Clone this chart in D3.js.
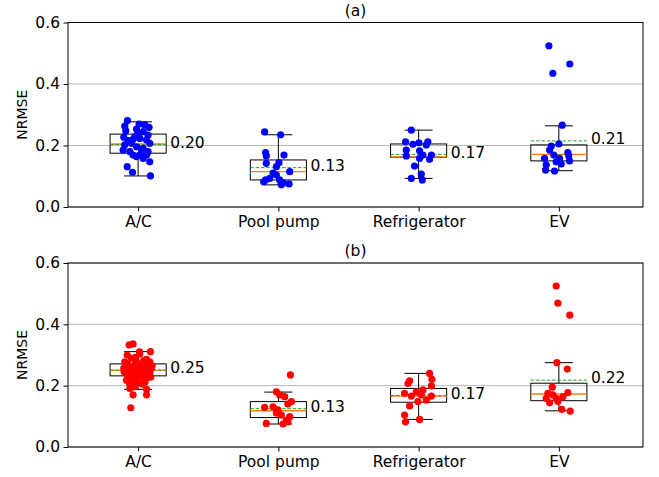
<!DOCTYPE html>
<html><head><meta charset="utf-8">
<script src="https://cdn.jsdelivr.net/npm/d3@7"></script>
<style>body{margin:0;background:#fff}svg{display:block}text{font-family:"DejaVu Sans",sans-serif;fill:#000}</style>
</head><body><svg id="c" width="659" height="477"></svg>
<script>
const categories = ["A/C","Pool pump","Refrigerator","EV"];
const yTicks = [0.0,0.2,0.4,0.6];
const titles = ["(a)","(b)"];

// panel (a) box statistics
const a_q1 = [0.175,0.088,0.162,0.150];
const a_med = [0.205,0.115,0.163,0.171];
const a_q3 = [0.237,0.153,0.205,0.202];
const a_whisLo = [0.101,0.072,0.093,0.118];
const a_whisHi = [0.277,0.235,0.250,0.264];
const a_mean = [0.203,0.128,0.171,0.215];
const a_labels = ["0.20","0.13","0.17","0.21"];

// panel (b) box statistics
const b_q1 = [0.232,0.096,0.146,0.151];
const b_med = [0.250,0.118,0.166,0.173];
const b_q3 = [0.271,0.148,0.191,0.208];
const b_whisLo = [0.188,0.075,0.090,0.118];
const b_whisHi = [0.311,0.179,0.240,0.275];
const b_mean = [0.251,0.125,0.168,0.218];
const b_labels = ["0.25","0.13","0.17","0.22"];

// individual points: [jitter (category units), NRMSE]
const a_AC = [[-0.076,0.281],[-0.095,0.263],[0.007,0.270],[0.048,0.267],[0.078,0.259],[-0.088,0.248],[-0.011,0.253],[0.036,0.245],[0.071,0.234],[-0.102,0.227],[-0.024,0.229],[0.012,0.223],[0.060,0.218],[0.083,0.207],[-0.095,0.202],[-0.047,0.207],[-0.011,0.196],[0.036,0.191],[-0.107,0.185],[-0.059,0.180],[0.024,0.185],[0.071,0.180],[-0.036,0.169],[0.012,0.169],[0.060,0.169],[0.083,0.147],[0.036,0.158],[-0.011,0.164],[-0.078,0.131],[-0.040,0.113],[0.088,0.101],[0.000,0.240],[-0.036,0.220],[-0.071,0.216]];
const a_Pool = [[-0.098,0.244],[0.016,0.235],[-0.091,0.177],[-0.086,0.166],[0.040,0.169],[-0.086,0.142],[0.004,0.144],[-0.014,0.131],[0.081,0.115],[-0.038,0.110],[-0.091,0.088],[-0.062,0.093],[0.009,0.088],[0.033,0.079],[0.021,0.072],[0.076,0.075],[-0.105,0.082],[-0.014,0.104]];
const a_Fridge = [[-0.052,0.250],[-0.093,0.212],[-0.041,0.204],[0.002,0.209],[0.066,0.212],[0.055,0.202],[-0.088,0.185],[0.007,0.183],[-0.088,0.166],[0.031,0.169],[0.091,0.169],[0.078,0.155],[0.007,0.158],[-0.029,0.133],[0.019,0.107],[-0.052,0.093],[0.026,0.088]];
const a_EV = [[-0.071,0.524],[0.078,0.465],[-0.043,0.435],[0.024,0.266],[0.000,0.205],[-0.054,0.198],[-0.066,0.185],[-0.036,0.169],[0.064,0.177],[0.071,0.166],[-0.102,0.158],[0.005,0.158],[0.076,0.150],[0.017,0.140],[-0.090,0.137],[-0.095,0.120],[-0.031,0.117],[-0.019,0.147]];

const b_AC = [[-0.036,0.336],[-0.064,0.333],[0.088,0.311],[-0.078,0.300],[0.012,0.303],[-0.047,0.289],[0.060,0.286],[-0.095,0.278],[-0.011,0.278],[0.083,0.278],[-0.071,0.267],[0.024,0.267],[0.060,0.262],[-0.102,0.257],[-0.036,0.260],[0.095,0.257],[-0.059,0.249],[0.000,0.249],[0.048,0.246],[-0.083,0.240],[-0.024,0.238],[0.083,0.240],[-0.047,0.229],[0.024,0.229],[0.060,0.224],[-0.083,0.218],[-0.011,0.213],[-0.059,0.191],[-0.024,0.197],[0.060,0.188],[-0.036,0.170],[0.060,0.170],[-0.052,0.128],[-0.020,0.292],[0.040,0.282],[-0.080,0.272],[0.070,0.271],[0.000,0.262],[-0.050,0.255],[0.030,0.255],[0.080,0.250],[-0.100,0.245],[-0.030,0.244],[0.020,0.238],[0.060,0.234],[-0.070,0.232],[0.000,0.225],[-0.040,0.222],[0.090,0.228],[0.030,0.205],[-0.060,0.205],[0.050,0.212],[-0.090,0.262],[0.100,0.265],[0.010,0.310],[-0.020,0.270]];
const b_Pool = [[0.086,0.235],[-0.014,0.180],[0.009,0.170],[0.045,0.164],[0.093,0.148],[0.068,0.140],[-0.098,0.129],[-0.038,0.131],[-0.003,0.121],[-0.014,0.110],[0.021,0.104],[0.081,0.099],[0.057,0.088],[-0.086,0.077],[0.033,0.075],[0.068,0.082]];
const b_Fridge = [[0.078,0.240],[0.095,0.221],[-0.064,0.216],[-0.076,0.207],[0.091,0.199],[0.031,0.186],[-0.016,0.180],[-0.100,0.175],[-0.052,0.166],[0.019,0.170],[0.091,0.166],[0.055,0.153],[-0.005,0.148],[-0.064,0.134],[-0.100,0.104],[-0.093,0.082],[0.007,0.090]];
const b_EV = [[-0.019,0.525],[-0.007,0.469],[0.078,0.430],[-0.014,0.275],[0.060,0.254],[-0.047,0.195],[-0.078,0.175],[-0.043,0.170],[0.064,0.177],[-0.090,0.159],[-0.019,0.159],[0.029,0.164],[-0.066,0.144],[-0.007,0.148],[0.021,0.123],[0.081,0.117]];

const panels = [
  {title:titles[0], q1:a_q1, med:a_med, q3:a_q3, lo:a_whisLo, hi:a_whisHi, mean:a_mean, labels:a_labels, pts:[a_AC,a_Pool,a_Fridge,a_EV], color:"#0000ff", top:22.5, bottom:207},
  {title:titles[1], q1:b_q1, med:b_med, q3:b_q3, lo:b_whisLo, hi:b_whisHi, mean:b_mean, labels:b_labels, pts:[b_AC,b_Pool,b_Fridge,b_EV], color:"#ff0000", top:263, bottom:447}
];

const svg = d3.select("#c");
const left = 68, right = 643;
const x = d3.scaleLinear().domain([0.5,4.6]).range([left,right]);
const fs = 15.5;
const boxW = 0.4;

panels.forEach(p => {
  const y = d3.scaleLinear().domain([0,0.6]).range([p.bottom,p.top]);
  const g = svg.append("g");
  // grid
  g.selectAll("line.grid").data(yTicks).join("line")
    .attr("x1",left).attr("x2",right).attr("y1",d=>y(d)).attr("y2",d=>y(d))
    .attr("stroke","#b0b0b0").attr("stroke-width",0.9);
  // boxes
  categories.forEach((c,i) => {
    const cx = x(i+1), x0 = x(i+1-boxW/2), x1 = x(i+1+boxW/2);
    const cap0 = x(i+1-boxW/4), cap1 = x(i+1+boxW/4);
    const bg = g.append("g").attr("stroke","#000").attr("stroke-width",1).attr("fill","none");
    bg.append("rect").attr("x",x0).attr("y",y(p.q3)).attr("width",x1-x0).attr("height",y(p.q1[i])-y(p.q3[i]))
      .attr("y",y(p.q3[i]));
    bg.append("line").attr("x1",cx).attr("x2",cx).attr("y1",y(p.q3[i])).attr("y2",y(p.hi[i]));
    bg.append("line").attr("x1",cx).attr("x2",cx).attr("y1",y(p.q1[i])).attr("y2",y(p.lo[i]));
    bg.append("line").attr("x1",cap0).attr("x2",cap1).attr("y1",y(p.hi[i])).attr("y2",y(p.hi[i]));
    bg.append("line").attr("x1",cap0).attr("x2",cap1).attr("y1",y(p.lo[i])).attr("y2",y(p.lo[i]));
    g.append("line").attr("x1",x0).attr("x2",x1).attr("y1",y(p.med[i])).attr("y2",y(p.med[i]))
      .attr("stroke","#ff7f0e").attr("stroke-width",1.4);
    g.append("line").attr("x1",x0).attr("x2",x1).attr("y1",y(p.mean[i])).attr("y2",y(p.mean[i]))
      .attr("stroke","#2ca02c").attr("stroke-width",1).attr("stroke-dasharray","3.5,1.8");
    g.selectAll(null).data(p.pts[i]).join("circle")
      .attr("cx",d=>x(i+1+d[0])).attr("cy",d=>y(d[1])).attr("r",3.6).attr("fill",p.color);
    g.append("text").attr("x",x1+4).attr("y",y(p.mean[i])+3.1).attr("font-size",fs).text(p.labels[i]);
  });
  // frame
  g.append("rect").attr("x",left).attr("y",p.top).attr("width",right-left).attr("height",p.bottom-p.top)
    .attr("fill","none").attr("stroke","#000").attr("stroke-width",1);
  // y axis
  const ya = g.append("g").attr("transform",`translate(${left},0)`)
    .call(d3.axisLeft(y).tickValues(yTicks).tickFormat(d3.format(".1f")).tickSize(4.5).tickPadding(3.5));
  ya.select(".domain").remove();
  ya.selectAll("text").attr("font-size",fs).attr("font-family","DejaVu Sans").attr("fill","#000");
  // x axis
  const xa = g.append("g").attr("transform",`translate(0,${p.bottom})`)
    .call(d3.axisBottom(x).tickValues([1,2,3,4]).tickFormat(d=>categories[d-1]).tickSize(4.5).tickPadding(4));
  xa.select(".domain").remove();
  xa.selectAll("text").attr("font-size",fs).attr("font-family","DejaVu Sans").attr("fill","#000");
  // title
  g.append("text").attr("x",(left+right)/2).attr("y",p.top-7).attr("text-anchor","middle").attr("font-size",fs).text(p.title);
  // ylabel
  g.append("text").attr("transform",`translate(27,${(p.top+p.bottom)/2}) rotate(-90)`).attr("text-anchor","middle")
    .attr("font-size",14).text("NRMSE");
});
</script></body></html>
